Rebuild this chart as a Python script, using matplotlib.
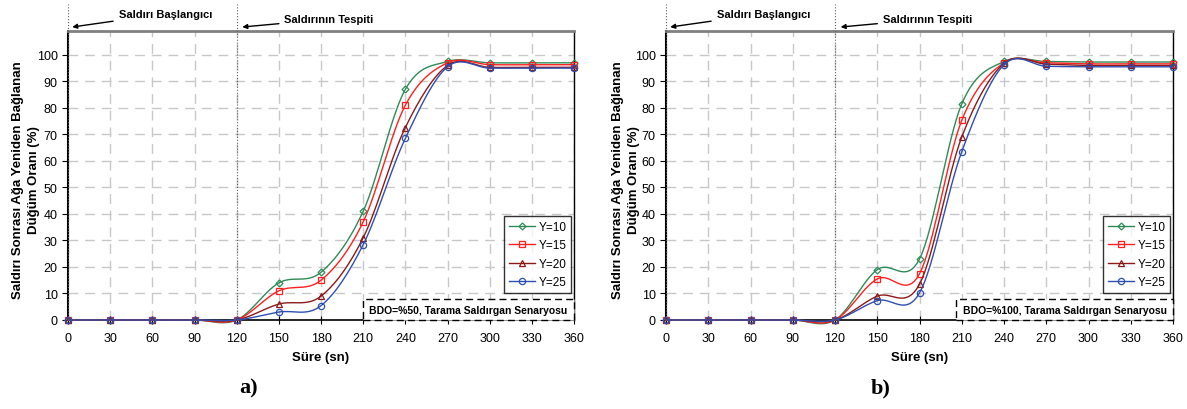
import numpy as np
import matplotlib
matplotlib.use("Agg")
from matplotlib import pyplot as plt
from matplotlib.patches import Rectangle

plt.rcParams['font.family'] = ['Liberation Sans', 'DejaVu Sans']

# time axis (sn)
sure = [0, 30, 60, 90, 120, 150, 180, 210, 240, 270, 300, 330, 360]

# a) BDO=%50
y10_a = [0, 0, 0, 0, 0, 14, 18, 41, 87, 97.5, 97, 97, 97]
y15_a = [0, 0, 0, 0, 0, 11, 15, 37, 81, 97, 96.3, 96.3, 96.3]
y20_a = [0, 0, 0, 0, 0, 6, 9, 31, 72.6, 96, 95.3, 95.3, 95.3]
y25_a = [0, 0, 0, 0, 0, 3, 5.4, 28.4, 68.5, 95.5, 95, 95, 95]

# b) BDO=%100
y10_b = [0, 0, 0, 0, 0, 19, 23, 81.5, 97.5, 97.5, 97.3, 97.3, 97.3]
y15_b = [0, 0, 0, 0, 0, 15.5, 17.4, 75.3, 97, 97, 96.6, 96.6, 96.6]
y20_b = [0, 0, 0, 0, 0, 9, 13.5, 69, 96.8, 96.5, 96, 96, 96]
y25_b = [0, 0, 0, 0, 0, 7.3, 10.2, 63.5, 96.3, 95.7, 95.5, 95.5, 95.5]

labels = ['Y=10', 'Y=15', 'Y=20', 'Y=25']
colors = ['#2e8b57', '#ff2020', '#8b1a1a', '#2f4fb0']
markers = ['D', 's', '^', 'o']


def smooth(x, y, n=16):
    # excel-like smoothed line (bezier through the points)
    x = np.asarray(x, float)
    y = np.asarray(y, float)
    p = np.column_stack([x, y])
    p = np.vstack([p[0], p, p[-1]])
    t = np.linspace(0, 1, n, endpoint=False)
    out = []
    for i in range(1, len(p) - 2):
        p0, p3 = p[i], p[i + 1]
        c1 = p0 + (p[i + 1] - p[i - 1]) / 6
        c2 = p3 - (p[i + 2] - p[i]) / 6
        seg = ((1 - t) ** 3)[:, None] * p0 + (3 * (1 - t) ** 2 * t)[:, None] * c1 \
            + (3 * (1 - t) * t ** 2)[:, None] * c2 + (t ** 3)[:, None] * p3
        out.append(seg)
    out.append(p[-2][None, :])
    out = np.vstack(out)
    return out[:, 0], out[:, 1], list(range(0, len(out), n))


fig = plt.figure(figsize=(11.87, 4.10), dpi=100)
ax_a = fig.add_axes([68 / 1187, 89 / 410, 506 / 1187, 289 / 410])
ax_b = fig.add_axes([666 / 1187, 89 / 410, 507 / 1187, 289 / 410])

panels = [
    (ax_a, [y10_a, y15_a, y20_a, y25_a], 'BDO=%50, Tarama Saldırgan Senaryosu', 210, 'a)', 249, -0.055),
    (ax_b, [y10_b, y15_b, y20_b, y25_b], 'BDO=%100, Tarama Saldırgan Senaryosu', 206, 'b)', 881, -0.051),
]

for ax, series, note, note_x, tag, tag_x, ylab_x in panels:
    for ys, lab, c, m in zip(series, labels, colors, markers):
        xs, yy, idx = smooth(sure, ys)
        ax.plot(xs, yy, color=c, lw=1.0, marker=m, markevery=idx,
                markersize=4.5 if m != 'D' else 3.5, markerfacecolor='none',
                markeredgecolor=c, markeredgewidth=0.9, label=lab,
                clip_on=False, zorder=3)

    ax.set_xlim(0, 360)
    ax.set_ylim(0, 109)
    ax.set_xticks(sure)
    ax.set_yticks(range(0, 101, 10))
    ax.tick_params(axis='both', labelsize=9, length=4, width=0.8)
    ax.tick_params(axis='x', direction='inout', length=6, pad=6)
    ax.grid(True, color='#c8c8c8', linestyle=(0, (7, 5)), linewidth=1.0)
    ax.set_axisbelow(True)
    for s in ['left', 'bottom', 'right']:
        ax.spines[s].set_color('black')
    ax.spines['left'].set_linewidth(1.5)
    ax.spines['bottom'].set_linewidth(1.2)
    ax.spines['right'].set_linewidth(1.0)
    ax.spines['top'].set_color('#808080')
    ax.spines['top'].set_linewidth(2.0)

    # attack start and detection markers
    for xv in [0, 120]:
        ax.plot([xv, xv], [0, 119], color='#606060', lw=0.8, linestyle=':',
                clip_on=False, zorder=4)
    ax.annotate('Saldırı Başlangıcı', xy=(3, 110.5), xytext=(36, 115.5),
                fontsize=8, fontweight='bold', va='center', ha='left',
                annotation_clip=False,
                arrowprops=dict(arrowstyle='-|>', color='black', lw=1.0,
                                mutation_scale=7, shrinkA=2, shrinkB=0))
    ax.annotate('Saldırının Tespiti', xy=(124, 110.5), xytext=(154, 113.5),
                fontsize=8, fontweight='bold', va='center', ha='left',
                annotation_clip=False,
                arrowprops=dict(arrowstyle='-|>', color='black', lw=1.0,
                                mutation_scale=7, shrinkA=2, shrinkB=0))

    ax.add_patch(Rectangle((note_x, 0), 360 - note_x, 7.9, facecolor='white',
                           edgecolor='black', lw=1.0, linestyle=(0, (5, 3)),
                           zorder=5, clip_on=False))
    ax.text((note_x + 360) / 2, 3.9, note, fontsize=7.5, fontweight='bold',
            ha='center', va='center', zorder=6)

    leg = ax.legend(loc='lower right', bbox_to_anchor=(0.994, 0.093),
                    borderaxespad=0, fontsize=8.5, frameon=True, fancybox=False,
                    edgecolor='black', handlelength=2.2, borderpad=0.4,
                    labelspacing=0.55, handletextpad=0.3)
    leg.get_frame().set_linewidth(1.0)

    ax.set_xlabel('Süre (sn)', fontsize=9.5, fontweight='bold', labelpad=5)
    ax.set_ylabel('Saldırı Sonrası Ağa Yeniden Bağlanan\nDüğüm Oranı (%)',
                  fontsize=9.5, fontweight='bold', linespacing=1.45)
    ax.yaxis.set_label_coords(ylab_x, 0.488)

    fig.text(tag_x / 1187, 0.052, tag, fontsize=16,
             fontweight='bold', family=['Liberation Serif', 'DejaVu Serif'],
             ha='center', va='center')

fig.savefig('out.png', dpi=100)
